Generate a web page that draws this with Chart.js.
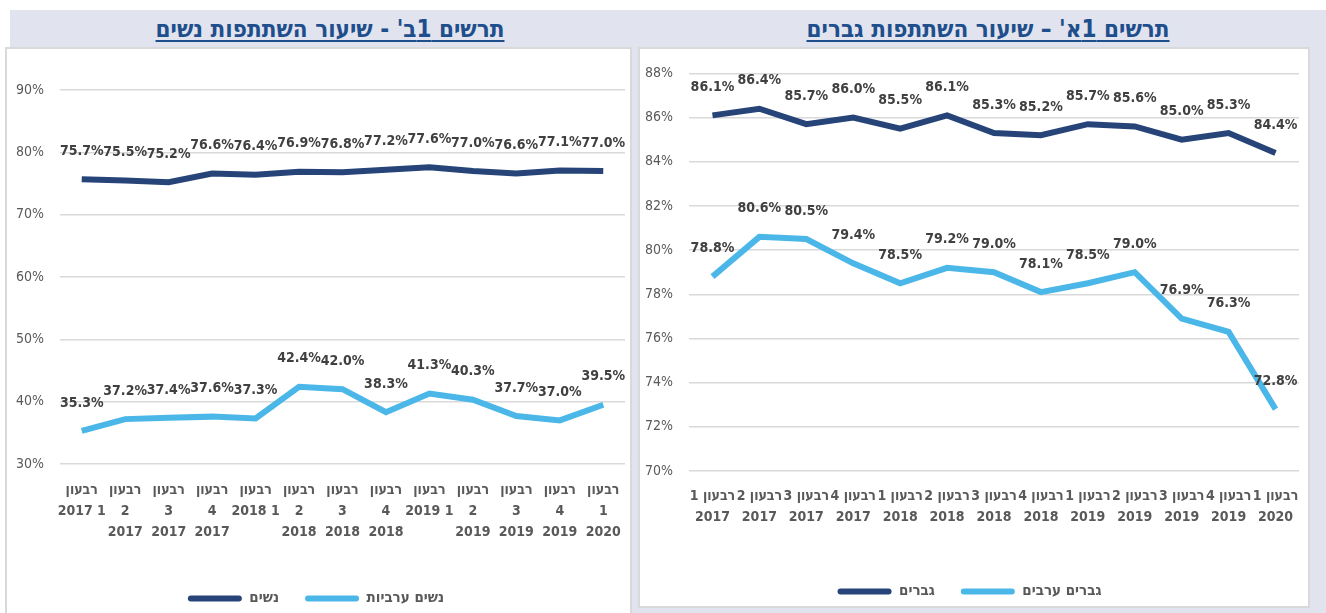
<!DOCTYPE html>
<html>
<head>
<meta charset="utf-8">
<script src="https://cdn.jsdelivr.net/npm/chart.js@4.4.1/dist/chart.umd.min.js"></script>
<style>
  body { margin: 0; width: 1326px; height: 613px; background: #fff; position: relative; overflow: hidden; font-family: 'DejaVu Sans Condensed', 'DejaVu Sans', sans-serif; }
  #band { position: absolute; left: 10px; top: 10px; width: 1316px; height: 603px; background: #e1e4ee; }
  .panel { position: absolute; background: #fff; border: 2px solid #d9d9d9; box-sizing: border-box; }
  .title { position: absolute; top: 15px; direction: rtl; font-weight: bold; font-size: 24px; color: #1f4e8c; text-decoration: underline; text-underline-offset: 3px; white-space: nowrap; transform: translateX(-50%); }
  canvas { display: block; }
</style>
</head>
<body>
<div id="band"></div>
<div class="title" style="left:330px">תרשים 1ב' - שיעור השתתפות נשים</div>
<div class="title" style="left:988px">תרשים 1א' – שיעור השתתפות גברים</div>
<div class="panel" style="left:5px; top:47px; width:627px; height:570px;">
  <div style="width:622px; height:569px;"><canvas id="women"></canvas></div>
</div>
<div class="panel" style="left:638px; top:47px; width:672px; height:561px;">
  <div style="width:666px; height:562px;"><canvas id="men"></canvas></div>
</div>
<script>
// נתונים - תרשים 1ב' נשים
const womenLabels = [
  ['רבעון', '2017 1'], ['רבעון', '2', '2017'], ['רבעון', '3', '2017'], ['רבעון', '4', '2017'],
  ['רבעון', '2018 1'], ['רבעון', '2', '2018'], ['רבעון', '3', '2018'], ['רבעון', '4', '2018'],
  ['רבעון', '2019 1'], ['רבעון', '2', '2019'], ['רבעון', '3', '2019'], ['רבעון', '4', '2019'],
  ['רבעון', '1', '2020']
];
const womenAll = [75.7, 75.5, 75.2, 76.6, 76.4, 76.9, 76.8, 77.2, 77.6, 77.0, 76.6, 77.1, 77.0];
const womenArab = [35.3, 37.2, 37.4, 37.6, 37.3, 42.4, 42.0, 38.3, 41.3, 40.3, 37.7, 37.0, 39.5];

// נתונים - תרשים 1א' גברים
const menLabels = [
  ['1 רבעון', '2017'], ['2 רבעון', '2017'], ['3 רבעון', '2017'], ['4 רבעון', '2017'],
  ['1 רבעון', '2018'], ['2 רבעון', '2018'], ['3 רבעון', '2018'], ['4 רבעון', '2018'],
  ['1 רבעון', '2019'], ['2 רבעון', '2019'], ['3 רבעון', '2019'], ['4 רבעון', '2019'],
  ['1 רבעון', '2020']
];
const menAll = [86.1, 86.4, 85.7, 86.0, 85.5, 86.1, 85.3, 85.2, 85.7, 85.6, 85.0, 85.3, 84.4];
const menArab = [78.8, 80.6, 80.5, 79.4, 78.5, 79.2, 79.0, 78.1, 78.5, 79.0, 76.9, 76.3, 72.8];

const DARK = '#264478';
const LIGHT = '#4bb7e8';
const FONT = "'DejaVu Sans Condensed', 'DejaVu Sans', sans-serif";

// תוויות ערכים מעל הקו
const valueLabels = {
  id: 'valueLabels',
  afterDatasetsDraw(chart) {
    const ctx = chart.ctx;
    ctx.save();
    ctx.font = 'bold 14px ' + FONT;
    ctx.fillStyle = '#404040';
    ctx.textAlign = 'center';
    ctx.textBaseline = 'middle';
    chart.data.datasets.forEach((ds, i) => {
      chart.getDatasetMeta(i).data.forEach((pt, j) => {
        ctx.fillText(ds.data[j].toFixed(1) + '%', pt.x, pt.y - 28);
      });
    });
    ctx.restore();
  }
};

function makeChart(id, labels, names, series, yMin, yMax, step, yWidth, xHeight, tickPad, pad) {
  new Chart(document.getElementById(id), {
    type: 'line',
    data: {
      labels: labels,
      datasets: [
        { label: names[0], data: series[0], borderColor: DARK, backgroundColor: DARK, borderWidth: 6, pointRadius: 0, tension: 0 },
        { label: names[1], data: series[1], borderColor: LIGHT, backgroundColor: LIGHT, borderWidth: 6, pointRadius: 0, tension: 0 }
      ]
    },
    options: {
      responsive: true,
      maintainAspectRatio: false,
      animation: false,
      layout: { padding: pad },
      plugins: {
        tooltip: { enabled: false },
        legend: {
          position: 'bottom',
          labels: {
            boxWidth: 54, boxHeight: 6, padding: 26, color: '#595959',
            font: { family: FONT, size: 15, weight: 'bold' },
            useBorderRadius: true, borderRadius: 3,
            generateLabels(chart) {
              return chart.data.datasets.map((ds, i) => ({
                text: ds.label, fillStyle: ds.borderColor, strokeStyle: ds.borderColor,
                lineWidth: 0, datasetIndex: i, borderRadius: 3, fontColor: '#595959'
              }));
            }
          }
        }
      },
      scales: {
        x: {
          offset: true,
          grid: { display: false, offset: true },
          border: { display: false },
          ticks: { color: '#595959', font: { family: FONT, size: 14, weight: 'bold', lineHeight: 1.5 }, maxRotation: 0, autoSkip: false, padding: tickPad },
          afterFit(s) { s.height = xHeight; }
        },
        y: {
          min: yMin, max: yMax,
          grid: { color: '#d9d9d9', lineWidth: 1.5, drawTicks: false },
          border: { display: false },
          ticks: { stepSize: step, color: '#595959', font: { family: FONT, size: 14 }, padding: 16, callback: v => v + '%' },
          afterFit(s) { s.width = yWidth; }
        }
      }
    },
    plugins: [valueLabels]
  });
}

makeChart('women', womenLabels, ['נשים', 'נשים ערביות'], [womenAll, womenArab], 30, 90, 10, 53, 101, 8, { top: 41, right: 4, bottom: 2, left: 0 });
makeChart('men', menLabels, ['גברים', 'גברים ערבים'], [menAll, menArab], 70, 88, 2, 49, 87, 7, { top: 22, right: 7, bottom: 2, left: 0 });
</script>
</body>
</html>
